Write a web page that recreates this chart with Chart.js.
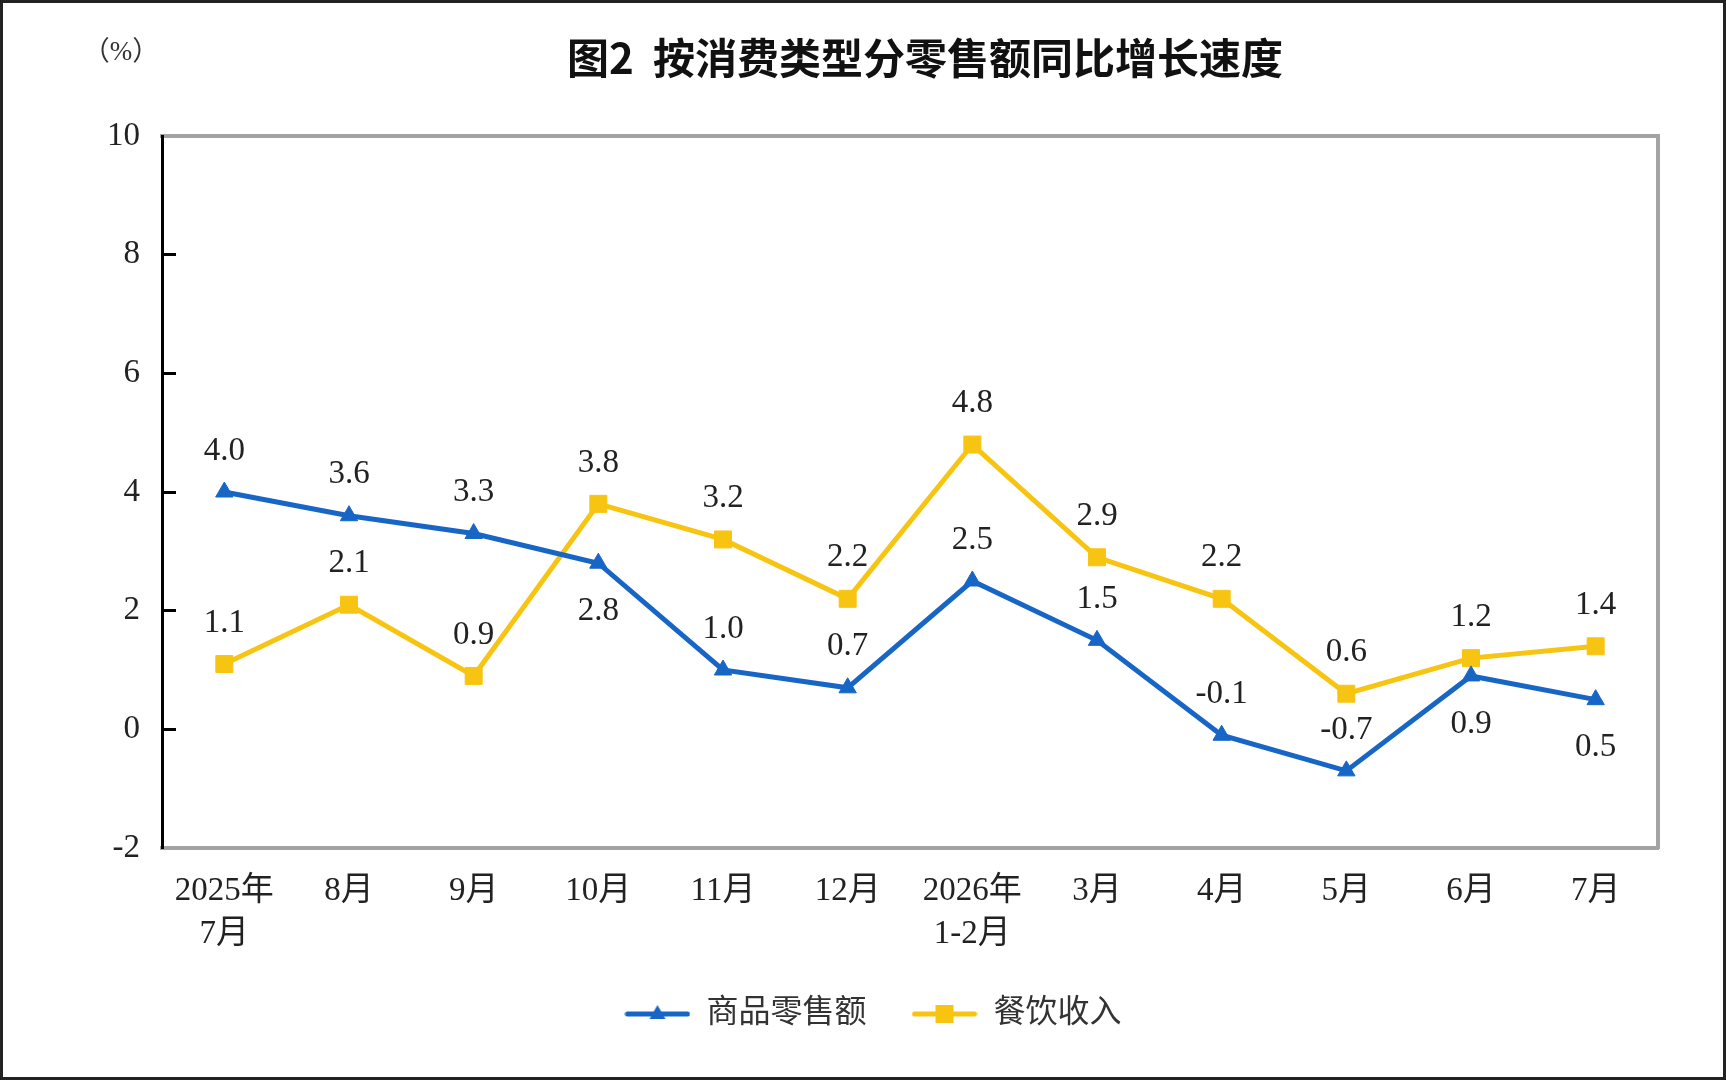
<!DOCTYPE html>
<html lang="zh-CN">
<head>
<meta charset="utf-8">
<title>按消费类型分零售额同比增长速度</title>
<script src="https://cdn.jsdelivr.net/npm/chart.js@4.4.1/dist/chart.umd.min.js"></script>
<style>
  html, body { margin: 0; padding: 0; background: #fff; }
  canvas { display: block; }
</style>
</head>
<body>
<canvas id="retailChart" width="1726" height="1080"></canvas>
<script>
// values
const months = [['2025年', '7月'], '8月', '9月', '10月', '11月', '12月', ['2026年', '1-2月'], '3月', '4月', '5月', '6月', '7月'];
const goodsRetail = [4.0, 3.6, 3.3, 2.8, 1.0, 0.7, 2.5, 1.5, -0.1, -0.7, 0.9, 0.5];
const cateringIncome = [1.1, 2.1, 0.9, 3.8, 3.2, 2.2, 4.8, 2.9, 2.2, 0.6, 1.2, 1.4];
const goodsLabelSide = ['above', 'above', 'above', 'below', 'above', 'above', 'above', 'above', 'above', 'above', 'below', 'below'];
const cateringLabelSide = ['above', 'above', 'above', 'above', 'above', 'above', 'above', 'above', 'above', 'above', 'above', 'above'];
const yTicks = [-2, 0, 2, 4, 6, 8, 10];

const BLUE = '#1766c6';
const YELLOW = '#f7c511';
const FRAME = '#a3a3a3';
const serif = "'Liberation Serif', 'Noto Sans CJK SC', serif";

// little line+marker pictures for the legend
function legendIcon(color, shape) {
    const c = document.createElement('canvas');
    c.width = 66;
    c.height = 22;
    const g = c.getContext('2d');
    g.strokeStyle = color;
    g.fillStyle = color;
    g.lineWidth = 5;
    g.lineCap = 'round';
    g.beginPath();
    g.moveTo(3, 11);
    g.lineTo(63, 11);
    g.stroke();
    g.beginPath();
    if (shape === 'triangle') {
        g.moveTo(33, 2);
        g.lineTo(41, 16);
        g.lineTo(25, 16);
        g.closePath();
    } else {
        g.rect(24, 2, 18, 18);
    }
    g.fill();
    return c;
}
const icons = [legendIcon(BLUE, 'triangle'), legendIcon(YELLOW, 'rect')];

const valueLabels = {
    id: 'valueLabels',
    afterDatasetsDraw(chart) {
        const ctx = chart.ctx;
        ctx.save();
        ctx.font = `33px ${serif}`;
        ctx.fillStyle = '#222';
        ctx.textAlign = 'center';
        ctx.textBaseline = 'middle';
        chart.data.datasets.forEach((ds, i) => {
            chart.getDatasetMeta(i).data.forEach((pt, j) => {
                const dy = ds.labelSide[j] === 'below' ? 48 : -41;
                ctx.fillText(ds.data[j].toFixed(1), pt.x, pt.y + dy);
            });
        });
        ctx.restore();
    }
};

const decorations = {
    id: 'decorations',
    afterDraw(chart) {
        const ctx = chart.ctx;
        ctx.save();
        ctx.fillStyle = '#111';
        ctx.textAlign = 'center';
        ctx.textBaseline = 'middle';
        ctx.font = "bold 42px 'Noto Sans CJK SC', sans-serif";
        ctx.fillText('图2  按消费类型分零售额同比增长速度', 925, 58);
        ctx.fillStyle = '#333';
        ctx.font = `27px ${serif}`;
        ctx.fillText('（%）', 121, 53);
        ctx.strokeStyle = '#222';
        ctx.lineWidth = 3;
        ctx.strokeRect(1.5, 1.5, chart.width - 3, chart.height - 3);
        ctx.restore();
    }
};

new Chart(document.getElementById('retailChart'), {
    type: 'line',
    data: {
        labels: months,
        datasets: [{
            label: '商品零售额',
            data: goodsRetail,
            labelSide: goodsLabelSide,
            borderColor: BLUE,
            backgroundColor: BLUE,
            borderWidth: 5,
            pointStyle: 'triangle',
            pointRadius: 10,
            pointBorderWidth: 1,
            tension: 0
        }, {
            label: '餐饮收入',
            data: cateringIncome,
            labelSide: cateringLabelSide,
            borderColor: YELLOW,
            backgroundColor: YELLOW,
            borderWidth: 5,
            pointStyle: 'rect',
            pointRadius: 12,
            pointBorderWidth: 1,
            tension: 0
        }]
    },
    options: {
        responsive: false,
        animation: false,
        events: [],
        layout: {
            padding: { left: 20, right: 0, top: 136, bottom: 40 }
        },
        scales: {
            x: {
                position: 'bottom',
                offset: true,
                afterFit: s => { s.height = 105; },
                grid: { display: false, drawTicks: false },
                border: { display: true, color: FRAME, width: 4 },
                ticks: {
                    color: '#222',
                    padding: 22,
                    maxRotation: 0,
                    autoSkip: false,
                    font: { family: serif, size: 33, lineHeight: 1.3 }
                }
            },
            x2: {
                type: 'category',
                position: 'top',
                afterFit: s => { s.height = 0; },
                grid: { display: false, drawTicks: false },
                border: { display: true, color: FRAME, width: 4 },
                ticks: { display: false }
            },
            y: {
                position: 'left',
                min: -2,
                max: 10,
                afterFit: s => { s.width = 142; },
                afterBuildTicks: s => { s.ticks = yTicks.map(v => ({ value: v })); },
                grid: {
                    display: true,
                    drawOnChartArea: false,
                    drawTicks: true,
                    tickLength: -14,
                    tickColor: '#000',
                    tickWidth: 3
                },
                border: { display: true, color: '#000', width: 3 },
                ticks: {
                    color: '#222',
                    padding: 36,
                    font: { family: serif, size: 33 }
                }
            },
            y2: {
                type: 'linear',
                position: 'right',
                min: -2,
                max: 10,
                afterFit: s => { s.width = 68; },
                grid: { display: false, drawTicks: false },
                border: { display: true, color: FRAME, width: 4 },
                ticks: { display: false }
            }
        },
        plugins: {
            title: { display: false },
            tooltip: { enabled: false },
            legend: {
                position: 'bottom',
                labels: {
                    usePointStyle: true,
                    pointStyleWidth: 66,
                    padding: 45,
                    color: '#333',
                    font: { family: serif, size: 32 },
                    generateLabels: chart => chart.data.datasets.map((ds, i) => ({
                        text: ds.label,
                        pointStyle: icons[i],
                        fillStyle: ds.borderColor,
                        strokeStyle: ds.borderColor,
                        lineWidth: 0,
                        fontColor: '#333',
                        hidden: false,
                        datasetIndex: i
                    }))
                }
            }
        }
    },
    plugins: [valueLabels, decorations]
});
</script>
</body>
</html>
